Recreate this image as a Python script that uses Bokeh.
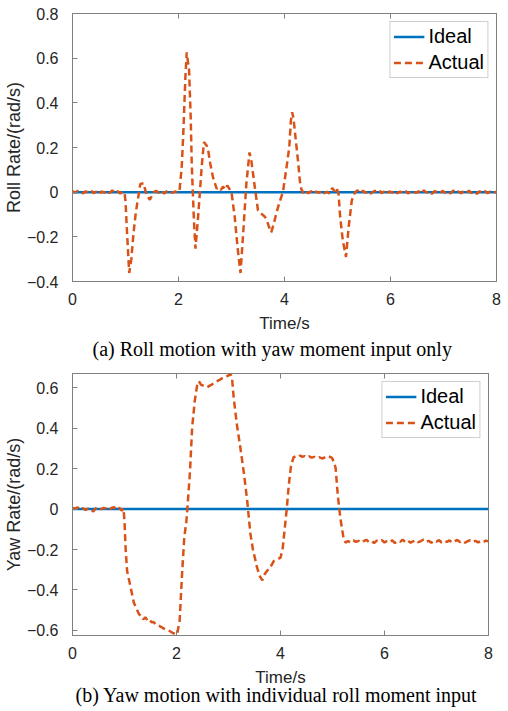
from bokeh.plotting import figure
from bokeh.models import (LinearAxis, FixedTicker, Legend, LegendItem, Title, Range1d)
from bokeh.layouts import column
from bokeh.embed import file_html
from bokeh.resources import INLINE

# ---------------- data ----------------
x_ticks = [0, 2, 4, 6, 8]
roll_y_ticks = [-0.4, -0.2, 0, 0.2, 0.4, 0.6, 0.8]
yaw_y_ticks = [-0.6, -0.4, -0.2, 0, 0.2, 0.4, 0.6]

ideal_time = [0, 8]
ideal_rate = [0, 0]

roll_time = [
    0.00, 0.05, 0.10, 0.15, 0.20, 0.25, 0.30, 0.35, 0.40, 0.45, 0.50, 0.55, 0.60, 0.65, 0.70, 0.75, 0.80, 0.85, 0.90, 0.95,
    0.98, 1.00, 1.03, 1.07, 1.11, 1.15, 1.19, 1.23, 1.28, 1.34, 1.40, 1.46, 1.53, 1.58, 1.63, 1.68, 1.73, 1.78, 1.83, 1.88,
    1.93, 1.98, 2.02, 2.06, 2.09, 2.13, 2.155, 2.20, 2.23, 2.25, 2.29, 2.32, 2.37, 2.44, 2.48, 2.53, 2.56, 2.60, 2.65, 2.72,
    2.76, 2.80, 2.84, 2.88, 2.92, 2.96, 3.00, 3.06, 3.12, 3.17, 3.22, 3.28, 3.34, 3.375, 3.44, 3.50, 3.54, 3.58, 3.62, 3.66,
    3.70, 3.75, 3.80, 3.84, 3.90, 3.97, 4.03, 4.09, 4.12, 4.145, 4.17, 4.21, 4.26, 4.29, 4.32, 4.36, 4.40, 4.45, 4.50, 4.55,
    4.60, 4.65, 4.70, 4.75, 4.80, 4.85, 4.90, 4.95, 4.98, 5.02, 5.05, 5.10, 5.16, 5.21, 5.27, 5.33, 5.38, 5.43, 5.48, 5.53,
    5.58, 5.63, 5.68, 5.73, 5.78, 5.83, 5.88, 5.93, 5.98, 6.03, 6.08, 6.13, 6.18, 6.23, 6.28, 6.33, 6.38, 6.43, 6.48, 6.53,
    6.58, 6.63, 6.68, 6.73, 6.78, 6.83, 6.88, 6.93, 6.98, 7.03, 7.08, 7.13, 7.18, 7.23, 7.28, 7.33, 7.38, 7.43, 7.48, 7.53,
    7.58, 7.63, 7.68, 7.73, 7.78, 7.83, 7.88, 7.93, 8.00,
]
roll_actual = [
    0.005, -0.003, 0.006, 0.000, -0.005, 0.004, -0.002, 0.007, -0.004, 0.002, -0.008, 0.003, -0.002, 0.006, -0.004, 0.008, -0.003, 0.004, -0.006, 0.002,
    0.000, -0.040, -0.186, -0.362, -0.300, -0.186, -0.100, -0.037, 0.037, 0.040, -0.015, -0.034, 0.000, 0.006, -0.004, 0.005, -0.006, 0.004, 0.007, -0.003,
    0.003, -0.002, 0.008, 0.110, 0.260, 0.515, 0.626, 0.545, 0.336, 0.127, -0.120, -0.253, -0.110, 0.120, 0.224, 0.209, 0.187, 0.127, 0.067, 0.016,
    0.022, 0.010, 0.025, 0.012, 0.030, 0.015, 0.000, -0.110, -0.260, -0.362, -0.186, 0.037, 0.178, 0.140, 0.022, -0.082, -0.090, -0.100, -0.108, -0.120,
    -0.150, -0.180, -0.140, -0.100, -0.050, 0.000, 0.097, 0.200, 0.320, 0.358, 0.330, 0.240, 0.128, 0.050, 0.012, -0.004, 0.006, -0.005, 0.004, -0.007,
    0.003, -0.003, 0.006, -0.005, 0.002, -0.006, 0.018, 0.004, 0.020, -0.007, -0.110, -0.216, -0.290, -0.157, -0.037, 0.000, 0.008, -0.004, 0.006, -0.003,
    0.004, -0.006, 0.003, 0.007, 0.012, -0.004, 0.002, -0.008, 0.004, -0.002, 0.006, -0.005, 0.003, -0.003, 0.007, -0.006, 0.002, 0.005, -0.004, 0.004,
    -0.006, 0.008, -0.002, 0.003, -0.007, 0.004, 0.001, -0.005, 0.006, -0.003, 0.004, -0.006, 0.007, -0.002, 0.003, -0.005, 0.005, -0.003, 0.006, -0.004,
    0.002, -0.007, 0.004, -0.002, 0.005, -0.005, 0.003, -0.004, 0.002,
]

yaw_time = [
    0.00, 0.05, 0.10, 0.15, 0.20, 0.25, 0.30, 0.35, 0.40, 0.45, 0.50, 0.55, 0.60, 0.65, 0.70, 0.75, 0.80, 0.85, 0.90, 0.95,
    0.98, 1.00, 1.02, 1.05, 1.12, 1.18, 1.28, 1.32, 1.36, 1.40, 1.44, 1.48, 1.52, 1.56, 1.60, 1.65, 1.70, 1.75, 1.80, 1.85,
    1.90, 1.95, 2.01, 2.06, 2.11, 2.15, 2.19, 2.22, 2.26, 2.30, 2.35, 2.40, 2.43, 2.47, 2.51, 2.55, 2.59, 2.64, 2.68, 2.72,
    2.78, 2.84, 2.91, 2.96, 3.00, 3.04, 3.07, 3.10, 3.16, 3.23, 3.30, 3.36, 3.42, 3.47, 3.55, 3.60, 3.65, 3.70, 3.74, 3.80,
    3.87, 3.94, 4.00, 4.04, 4.08, 4.12, 4.16, 4.20, 4.25, 4.30, 4.34, 4.38, 4.42, 4.46, 4.50, 4.55, 4.60, 4.65, 4.70, 4.75,
    4.80, 4.85, 4.90, 4.95, 4.99, 5.03, 5.06, 5.10, 5.15, 5.21, 5.25, 5.30, 5.35, 5.40, 5.45, 5.50, 5.55, 5.60, 5.65, 5.70,
    5.75, 5.80, 5.85, 5.90, 5.95, 6.00, 6.05, 6.10, 6.15, 6.20, 6.25, 6.30, 6.35, 6.40, 6.45, 6.50, 6.55, 6.60, 6.65, 6.70,
    6.75, 6.80, 6.85, 6.90, 6.95, 7.00, 7.05, 7.10, 7.15, 7.20, 7.25, 7.30, 7.35, 7.40, 7.45, 7.50, 7.55, 7.60, 7.65, 7.70,
    7.75, 7.80, 7.85, 7.90, 7.95, 8.00,
]
yaw_actual = [
    0.005, 0.002, 0.008, -0.002, 0.004, -0.005, 0.003, -0.002, -0.012, 0.004, 0.008, -0.001, 0.006, 0.002, -0.006, 0.005, 0.009, -0.003, 0.006, -0.008,
    0.003, -0.059, -0.190, -0.306, -0.389, -0.463, -0.520, -0.528, -0.545, -0.535, -0.550, -0.545, -0.560, -0.558, -0.570, -0.575, -0.582, -0.590, -0.595, -0.600,
    -0.608, -0.615, -0.620, -0.553, -0.306, -0.140, -0.060, 0.040, 0.188, 0.400, 0.533, 0.616, 0.632, 0.615, 0.610, 0.605, 0.602, 0.610, 0.615, 0.625,
    0.632, 0.640, 0.652, 0.656, 0.660, 0.668, 0.640, 0.550, 0.420, 0.300, 0.170, 0.040, -0.120, -0.200, -0.290, -0.330, -0.352, -0.320, -0.306, -0.290,
    -0.257, -0.249, -0.240, -0.200, -0.100, 0.000, 0.120, 0.210, 0.255, 0.262, 0.258, 0.265, 0.258, 0.262, 0.255, 0.260, 0.254, 0.258, 0.252, 0.256,
    0.250, 0.255, 0.262, 0.258, 0.253, 0.230, 0.204, 0.072, -0.043, -0.140, -0.166, -0.158, -0.165, -0.155, -0.162, -0.157, -0.166, -0.158, -0.152, -0.163,
    -0.158, -0.168, -0.156, -0.161, -0.154, -0.165, -0.159, -0.163, -0.155, -0.168, -0.158, -0.162, -0.151, -0.164, -0.157, -0.166, -0.160, -0.153, -0.164, -0.158,
    -0.151, -0.162, -0.157, -0.167, -0.156, -0.161, -0.154, -0.165, -0.158, -0.162, -0.155, -0.166, -0.159, -0.153, -0.163, -0.157, -0.166, -0.159, -0.154, -0.162,
    -0.157, -0.165, -0.158, -0.163, -0.156, -0.160,
]

caption_a = "(a) Roll motion with yaw moment input only"
caption_b = "(b) Yaw motion with individual roll moment input"

BLUE = "#0072BD"
ORANGE = "#D95319"
AXIS_GRAY = "#808080"
TEXT = "#262626"
SANS = "Liberation Sans"
SERIF = "Liberation Serif"


def style_axis(ax, ticks, show_labels, standoff):
    ax.ticker = FixedTicker(ticks=ticks)
    ax.major_tick_in = 5
    ax.major_tick_out = 0
    ax.minor_tick_line_color = None
    ax.axis_line_color = AXIS_GRAY
    ax.major_tick_line_color = AXIS_GRAY
    ax.major_label_text_font = SANS
    ax.major_label_text_color = TEXT
    ax.axis_label_text_font = SANS
    ax.axis_label_text_font_style = "normal"
    ax.axis_label_text_color = TEXT
    if show_labels:
        ax.major_label_text_font_size = "16px"
        ax.major_label_standoff = standoff
        ax.major_label_overrides = {0: "0"}
    else:
        ax.major_label_text_font_size = "0px"
        ax.major_label_standoff = 0
        ax.major_label_overrides = {t: "" for t in ticks}


def make_panel(time, actual, y_ticks, y_lo, y_hi, ylabel, caption, cap_offset, cap_standoff,
               width, height, b_top, b_bottom, b_right):
    p = figure(width=width, height=height, output_backend="svg", toolbar_location=None,
               x_range=Range1d(0, 8), y_range=Range1d(y_lo, y_hi),
               min_border_left=64, min_border_right=b_right,
               min_border_top=b_top, min_border_bottom=b_bottom)
    p.xgrid.visible = False
    p.ygrid.visible = False
    p.outline_line_color = AXIS_GRAY
    p.background_fill_color = "white"
    p.border_fill_color = "white"

    style_axis(p.xaxis[0], x_ticks, True, 11)
    style_axis(p.yaxis[0], y_ticks, True, 14)
    p.xaxis[0].axis_label = "Time/s"
    p.xaxis[0].axis_label_text_font_size = "17px"
    p.xaxis[0].axis_label_standoff = 6
    p.yaxis[0].axis_label = ylabel
    p.yaxis[0].axis_label_text_font_size = "18px"
    p.yaxis[0].axis_label_standoff = 0

    top_ax = LinearAxis()
    style_axis(top_ax, x_ticks, False, 0)
    p.add_layout(top_ax, "above")

    r_ideal = p.line(ideal_time, ideal_rate, line_color=BLUE, line_width=2.5)
    r_act = p.line(time, actual, line_color=ORANGE, line_width=2.5, line_dash="7 4")

    legend = Legend(items=[LegendItem(label="Ideal", renderers=[r_ideal]),
                           LegendItem(label="Actual", renderers=[r_act])],
                    location="top_right", margin=8, padding=3, spacing=3,
                    glyph_width=31, glyph_height=23, label_standoff=4,
                    label_text_font=SANS, label_text_font_size="20px",
                    label_text_color="black",
                    border_line_color="#a0a0a0", background_fill_alpha=1.0)
    p.add_layout(legend)

    cap = Title(text=caption, align="left", text_font=SERIF,
                text_font_size="20px", text_font_style="normal",
                text_color="black", offset=cap_offset, standoff=cap_standoff)
    p.add_layout(cap, "below")
    return p


p1 = make_panel(roll_time, roll_actual, roll_y_ticks, -0.4, 0.8,
                "Roll Rate/(rad/s)", caption_a, 20, 1,
                508, 367, 13, 86, 2)
p2 = make_panel(yaw_time, yaw_actual, yaw_y_ticks, -0.625, 0.67,
                "Yaw Rate/(rad/s)", caption_b, 3, -15,
                500, 343, 6, 75, 12)

layout = column(p1, p2, spacing=0)
open("out.html", "w").write(file_html(layout, INLINE))
